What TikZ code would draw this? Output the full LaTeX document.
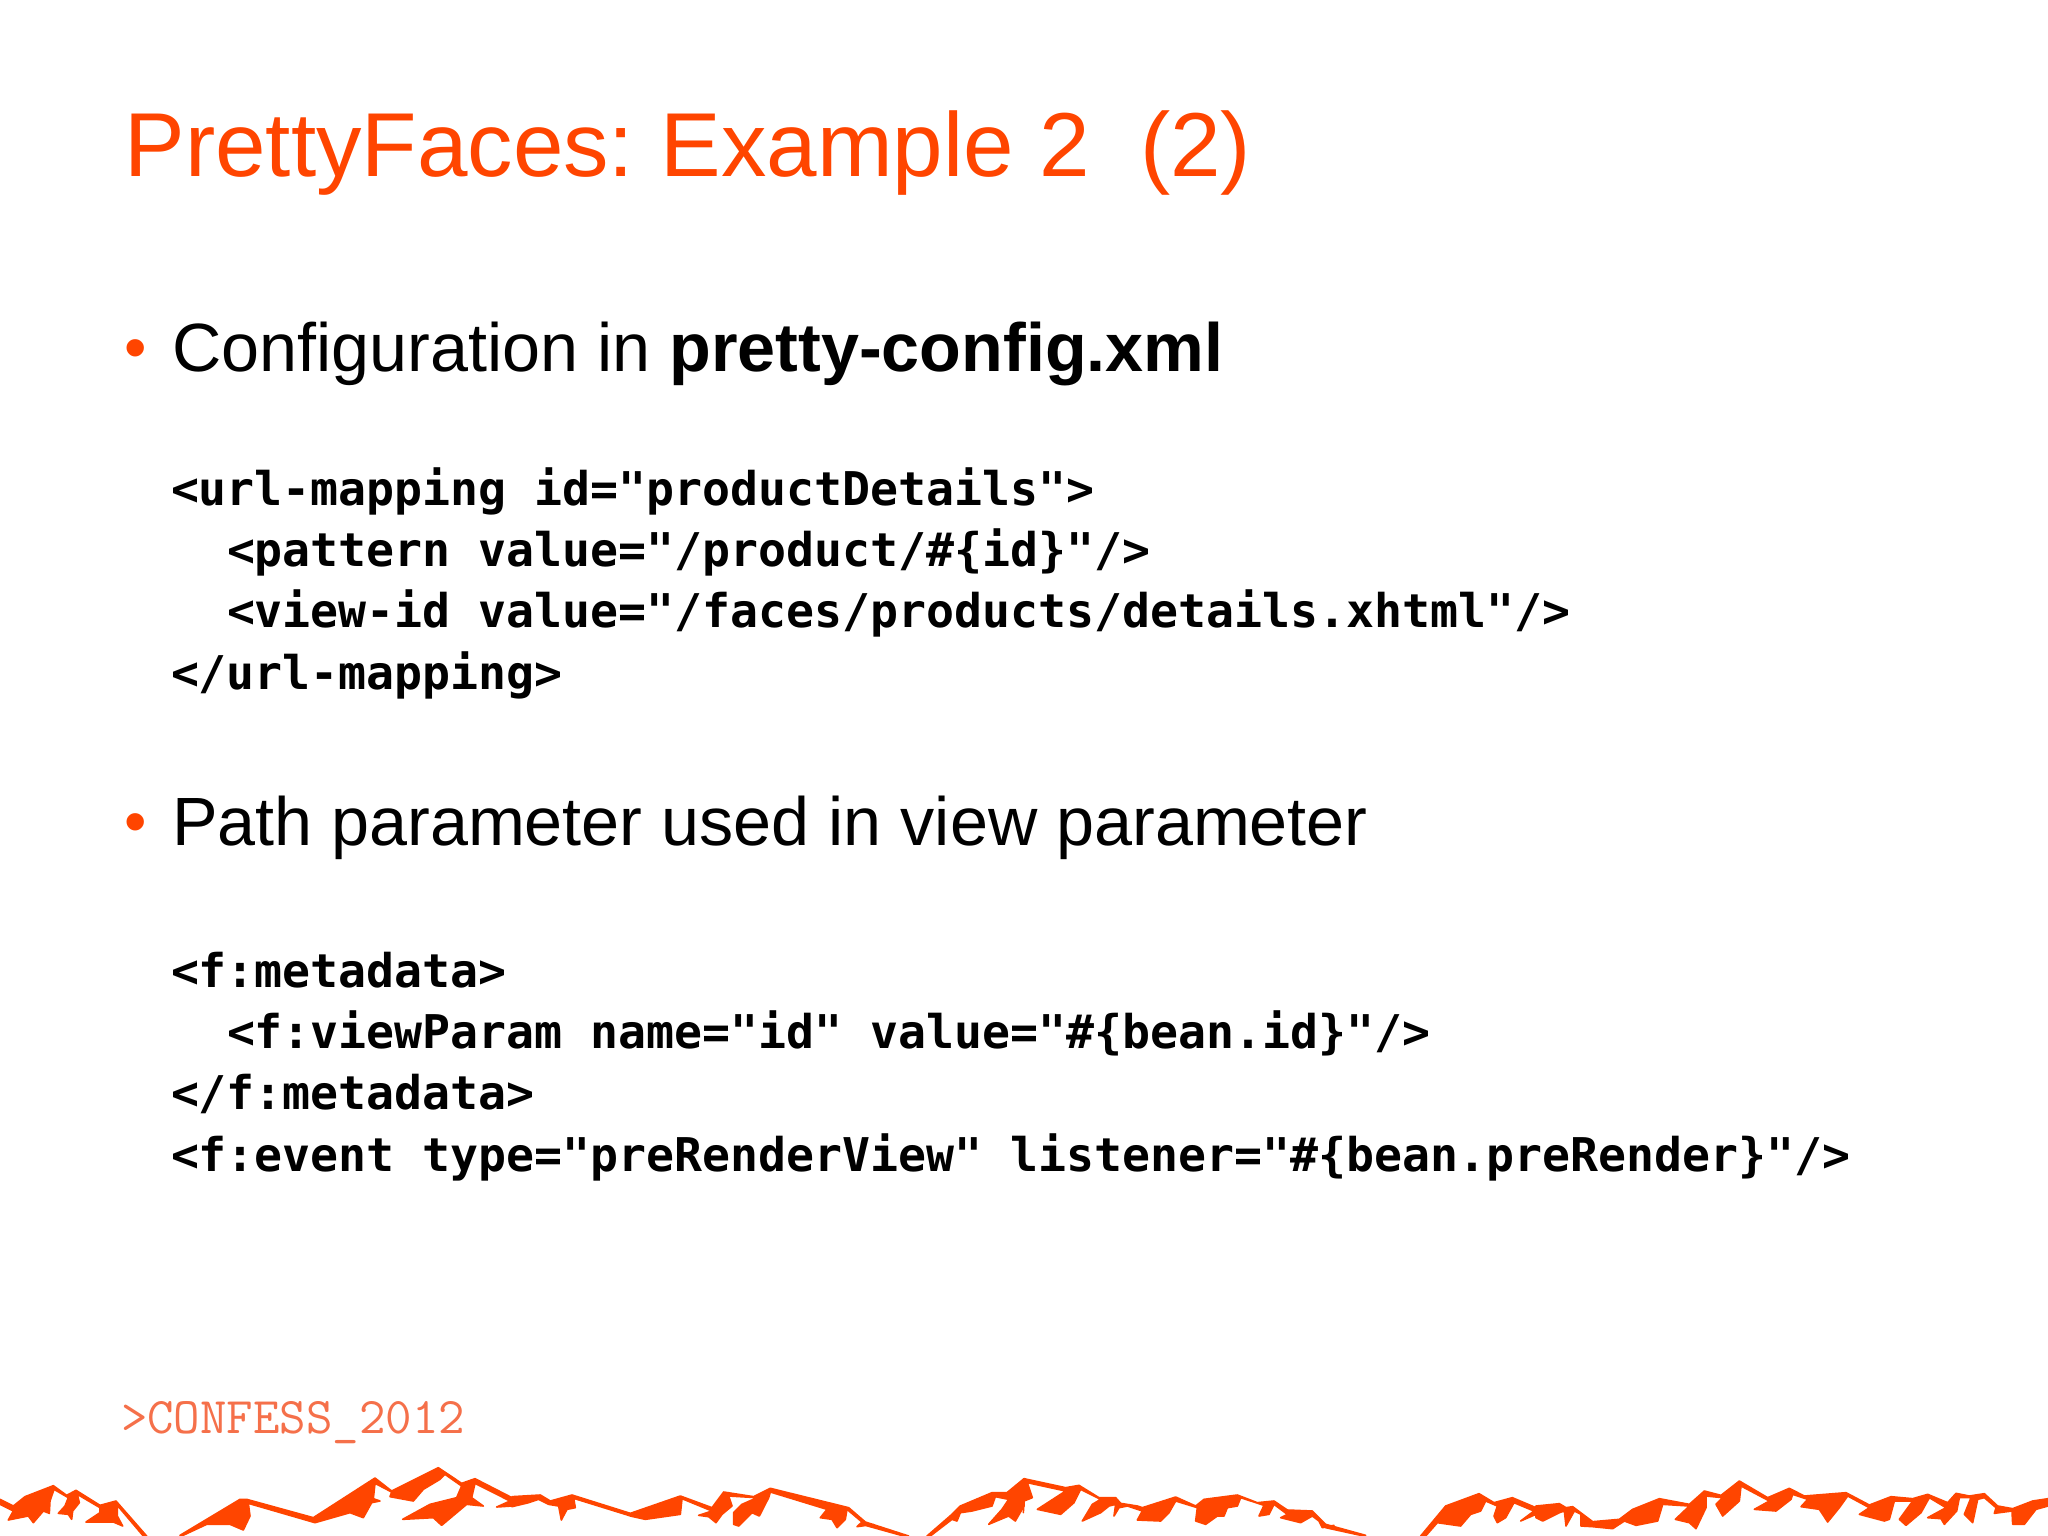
\documentclass[tikz,border=0pt]{standalone}
\usepackage{fontspec}
\setmainfont{Liberation Sans}
\newfontfamily\codefont{DejaVu Sans Mono}
\definecolor{confess}{HTML}{FF4500}
\definecolor{tagcol}{HTML}{F5704A}
\tikzset{
  txt/.style={anchor=base west,inner sep=0pt,outer sep=0pt,text=black},
  slidetitle/.style={txt,text=confess,font=\fontsize{90.8pt}{91pt}\selectfont},
  bullettext/.style={txt,font=\fontsize{68.3pt}{68pt}\selectfont},
  bulletmark/.style={txt,text=confess,font=\fontsize{64pt}{64pt}\selectfont},
  codeline/.style={txt,font=\codefont\bfseries\fontsize{46.5pt}{46.5pt}\selectfont},
  tagline/.style={txt,text=tagcol,font=\ttfamily\fontsize{51.4pt}{51.4pt}\selectfont},
  mt/.style={fill=confess,draw=confess,line width=1.6pt,line join=round},
  z0/.style={shift={(0,1456)},x=0.33333pt,y=-0.33333pt},
  z1/.style={shift={(512,1456)},x=0.33333pt,y=-0.33333pt},
  z2/.style={shift={(1024,1456)},x=0.33333pt,y=-0.33333pt},
  z3/.style={shift={(1536,1456)},x=0.33333pt,y=-0.33333pt},
}
\begin{document}
\begin{tikzpicture}[x=1pt,y=-1pt]
\useasboundingbox (0,0) rectangle (2048,1536);
\fill[white] (0,0) rectangle (2048,1536);
\node[slidetitle] (title) at (124.5,176) {PrettyFaces:\hspace{-7pt} Example 2\ \ (2)};
\node[bulletmark] (b1) at (124,369.5) {•};
\node[bullettext] (t1) at (172,371) {Configuration in \textbf{pretty-config.xml}};
\node[codeline] (c1) at (171,505) {<url-mapping id="productDetails">};
\node[codeline] (c2) at (227,566.4) {<pattern value="/product/\#\{id\}"/>};
\node[codeline] (c3) at (227,627.8) {<view-id value="/faces/products/details.xhtml"/>};
\node[codeline] (c4) at (171,689.2) {</url-mapping>};
\node[bulletmark] (b2) at (124,843.5) {•};
\node[bullettext] (t2) at (172,845) {Path parameter used in view parameter};
\node[codeline] (d1) at (171,987) {<f:metadata>};
\node[codeline] (d2) at (227,1048.4) {<f:viewParam name="id" value="\#\{bean.id\}"/>};
\node[codeline] (d3) at (171,1109.8) {</f:metadata>};
\node[codeline] (d4) at (171,1171.2) {<f:event type="preRenderView" listener="\#\{bean.preRender\}"/>};
\node[tagline] (tag) at (121,1433) {>CONFESS\_2012};
\begin{scope}
\clip (0,1440) rectangle (2048,1536);
\begin{scope}[z0]
\filldraw[mt] (0,130)--(40,150)--(75,122)--(160,89)--(200,118)--(228,103)--(300,148)--(348,135)--(440,240)--(430,240)--(352,148)--(352,180)--(368,210)--(340,198)--(258,198)--(300,170)--(300,155)--(232,115)--(238,140)--(218,165)--(215,190)--(205,175)--(175,172)--(195,150)--(205,125)--(162,100)--(150,135)--(148,172)--(130,165)--(100,200)--(85,180)--(25,192)--(40,165)--(0,145)--cycle;
\filldraw[mt] (540,238)--(720,130)--(740,130)--(940,185)--(1125,66)--(1175,105)--(1315,35)--(1385,82)--(1425,68)--(1536,125)--(1536,150)--(1490,153)--(1530,135)--(1425,82)--(1415,125)--(1450,150)--(1400,145)--(1325,208)--(1300,185)--(1208,190)--(1290,145)--(1370,125)--(1385,90)--(1335,55)--(1320,70)--(1270,100)--(1240,135)--(1170,122)--(1175,108)--(1125,82)--(1120,128)--(1140,135)--(1115,140)--(1090,185)--(1050,170)--(945,200)--(745,142)--(750,180)--(730,222)--(690,205)--(620,205)--(545,240)--cycle;
\end{scope}
\begin{scope}[z1]
\filldraw[mt] (0,122)--(85,117)--(115,135)--(180,117)--(355,172)--(505,120)--(600,155)--(635,108)--(725,122)--(775,97)--(1010,155)--(1060,198)--(1190,240)--(1175,240)--(1060,208)--(1085,205)--(1035,212)--(1050,198)--(1005,160)--(1000,190)--(975,215)--(960,190)--(925,185)--(945,160)--(775,108)--(770,125)--(742,180)--(720,170)--(680,210)--(665,205)--(665,170)--(690,145)--(735,125)--(650,120)--(660,150)--(630,175)--(612,200)--(590,182)--(560,178)--(600,165)--(510,128)--(505,175)--(400,190)--(355,180)--(340,175)--(185,127)--(190,155)--(165,160)--(148,192)--(140,150)--(110,145)--(80,130)--(50,140)--(0,152)--cycle;
\filldraw[mt] (1245,240)--(1320,175)--(1345,150)--(1440,110)--(1485,110)--(1536,68)--(1536,150)--(1510,195)--(1490,180)--(1430,205)--(1470,160)--(1490,130)--(1450,122)--(1440,150)--(1380,165)--(1345,170)--(1335,195)--(1320,190)--(1255,240)--cycle;
\end{scope}
\begin{scope}[z2]
\filldraw[mt] (0,68)--(125,95)--(165,88)--(225,125)--(275,125)--(290,142)--(340,150)--(355,155)--(455,123)--(515,150)--(540,130)--(640,117)--(700,140)--(750,135)--(790,162)--(865,165)--(905,205)--(1025,238)--(1010,238)--(905,215)--(930,208)--(895,215)--(885,195)--(865,180)--(830,200)--(770,185)--(790,175)--(750,145)--(735,175)--(705,180)--(720,148)--(650,125)--(640,150)--(610,155)--(600,180)--(580,180)--(545,205)--(515,195)--(520,155)--(455,135)--(435,170)--(410,195)--(340,192)--(355,165)--(310,150)--(285,155)--(270,180)--(275,145)--(255,150)--(230,170)--(175,195)--(205,145)--(230,130)--(170,100)--(150,140)--(110,175)--(40,160)--(125,105)--(10,80)--(25,125)--(0,135)--(-2,170)--cycle;
\filldraw[mt] (1190,240)--(1265,150)--(1365,113)--(1410,140)--(1465,125)--(1536,155)--(1536,175)--(1490,195)--(1530,165)--(1470,140)--(1445,185)--(1420,200)--(1410,180)--(1420,150)--(1385,135)--(1370,165)--(1340,175)--(1310,210)--(1240,200)--(1205,240)--cycle;
\end{scope}
\begin{scope}[z3]
\filldraw[mt] (0,150)--(70,143)--(90,155)--(110,152)--(170,197)--(250,190)--(290,160)--(370,128)--(460,145)--(505,105)--(555,118)--(610,75)--(695,125)--(760,97)--(805,120)--(930,110)--(1000,147)--(1065,122)--(1130,128)--(1175,115)--(1235,140)--(1260,112)--(1300,120)--(1345,113)--(1385,150)--(1430,158)--(1490,135)--(1536,128)--(1536,150)--(1500,160)--(1465,205)--(1430,205)--(1428,165)--(1375,172)--(1380,155)--(1345,125)--(1325,130)--(1310,200)--(1285,175)--(1305,125)--(1270,125)--(1262,165)--(1225,205)--(1215,188)--(1175,185)--(1230,155)--(1180,125)--(1155,170)--(1110,208)--(1090,190)--(1130,135)--(1075,135)--(1060,190)--(1045,195)--(970,175)--(1000,155)--(935,120)--(910,155)--(875,198)--(850,160)--(795,152)--(815,130)--(770,115)--(765,130)--(720,165)--(655,160)--(700,135)--(615,90)--(610,135)--(560,180)--(540,145)--(560,125)--(510,120)--(510,155)--(480,218)--(460,200)--(418,190)--(460,150)--(380,145)--(365,195)--(300,208)--(265,195)--(230,218)--(170,212)--(135,210)--(135,175)--(115,165)--(90,210)--(85,165)--(70,170)--(20,195)--(0,185)--cycle;
\end{scope}
\end{scope}
\end{tikzpicture}
\end{document}
